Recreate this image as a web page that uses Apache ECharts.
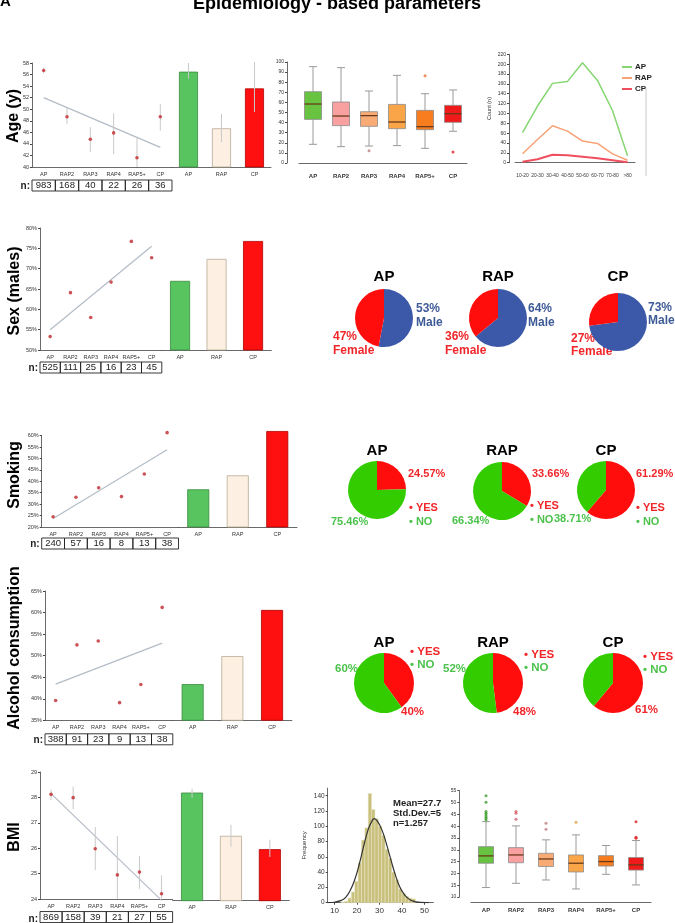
<!DOCTYPE html>
<html><head><meta charset="utf-8">
<script src="https://cdn.jsdelivr.net/npm/echarts@6/dist/echarts.min.js"></script>
<style>html,body{margin:0;padding:0;background:#fff}#c{width:675px;height:923px}</style>
</head><body><div id="c"></div>
<script>
var FONT = '"Liberation Sans", Arial, sans-serif';
var scatCats = ['AP','RAP2','RAP3','RAP4','RAP5+','CP'];
var barCats = ['AP','RAP','CP'];
var boxCats = ['AP','RAP2','RAP3','RAP4','RAP5+','CP'];

// ---- Age ----
var ageMean = [56.7, 48.7, 44.8, 45.9, 41.6, 48.7];
var ageErrLo = [56.2, 47.4, 42.6, 42.2, 40.0, 46.3];
var ageErrHi = [57.2, 50.4, 46.9, 49.3, 45.0, 50.9];
var ageTrend = [52.0, 43.4];
var ageN = [983, 168, 40, 22, 26, 36];
var ageBar = [56.5, 46.7, 53.6];
var ageBarLo = [55.3, 44.3, 49.5];
var ageBarHi = [58.0, 49.2, 58.2];
var ageBox = [
  [18.5, 43.2, 58.4, 70.6, 95.4],
  [16.2, 37.0, 46.5, 60.4, 94.4],
  [16.8, 36.3, 46.9, 50.8, 71.3],
  [17.2, 34.0, 40.6, 58.0, 86.8],
  [14.5, 33.0, 36.0, 52.1, 68.6],
  [31.4, 40.3, 48.8, 57.1, 72.3]
];
var ageOut = [[2, 12.2], [4, 86.5], [5, 10.9]];
var ageGroups = ['10-20','20-30','30-40','40-50','50-60','60-70','70-80','>80'];
var countAP = [61, 115, 161, 165, 203, 167, 106, 14];
var countRAP = [18, 47, 75, 64, 44, 39, 18, 5];
var countCP = [2, 7, 16, 15, 12, 9, 5, 1];

// ---- Sex ----
var sexMean = [53.3, 64.1, 58.0, 66.7, 76.7, 72.7];
var sexTrend = [55.0, 75.5];
var sexN = [525, 111, 25, 16, 23, 45];
var sexBar = [67.0, 72.4, 76.8];
var sexMale = [53, 64, 73];
var sexFemale = [47, 36, 27];

// ---- Smoking ----
var smokeMean = [24.5, 33.0, 37.2, 33.3, 43.2, 61.3];
var smokeTrend = [23.7, 53.8];
var smokeN = [240, 57, 16, 8, 13, 38];
var smokeBar = [36.5, 42.6, 62.0];
var smokeYes = [24.57, 33.66, 61.29];
var smokeNo = [75.46, 66.34, 38.71];

// ---- Alcohol ----
var alcMean = [39.6, 52.5, 53.4, 39.1, 43.3, 61.2];
var alcTrend = [43.4, 52.9];
var alcN = [388, 91, 23, 9, 13, 38];
var alcBar = [43.4, 49.9, 60.6];
var alcYes = [40, 48, 61];
var alcNo = [60, 52, 39];

// ---- BMI ----
var bmiMean = [28.12, 27.99, 25.98, 24.95, 25.06, 24.21];
var bmiErrLo = [27.9, 27.53, 25.14, 24.0, 24.4, 24.03];
var bmiErrHi = [28.3, 28.43, 26.83, 26.48, 25.7, 24.93];
var bmiTrend = [28.15, 23.95];
var bmiN = [869, 158, 39, 21, 27, 55];
var bmiBar = [28.2, 26.52, 26.0];
var bmiBarLo = [28.0, 26.1, 25.7];
var bmiBarHi = [28.35, 26.95, 26.37];
var bmiBox = [
  [14.0, 24.3, 27.4, 31.3, 41.9],
  [15.8, 24.5, 27.8, 30.9, 40.1],
  [17.2, 22.9, 26.1, 28.5, 34.2],
  [13.4, 20.6, 24.3, 27.8, 36.3],
  [19.6, 23.1, 25.0, 27.5, 31.8],
  [15.1, 21.4, 23.6, 26.7, 33.9]
];
var bmiOut = [[0,52.9],[0,50.1],[0,46.2],[0,45.5],[0,44.7],[0,44.0],[0,43.3],[0,42.6],
  [1,46.2],[1,45.5],[1,42.9],[2,41.2],[2,38.7],[3,41.6],[5,41.9],[5,35.3],[5,34.9]];
var histBinWidth = 1.5;
var histLeft = [13, 14.5, 16, 17.5, 19, 20.5, 22, 23.5, 25, 26.5, 28, 29.5, 31, 32.5, 34, 35.5, 37, 38.5, 40, 41.5, 43, 44.5, 49];
var histFreq = [1, 2, 6, 14, 28, 52, 82, 98, 143, 122, 110, 100, 88, 70, 58, 40, 30, 18, 12, 8, 6, 5, 1];
var normX = [7, 10, 13, 15, 17, 19, 21, 23, 25, 26.5, 27.7, 29, 31, 33, 35, 37, 39, 41, 43, 45, 48, 52];
var normY = [0, 0.6, 3, 7, 16, 30, 50, 74, 96, 106, 110, 107, 96, 78, 57, 37, 21, 11, 5, 2, 0.5, 0];
var histCount = 'n=1.257', histMean = 'Mean=27.7', histSd = 'Std.Dev.=5';

// ================= build =================
var barColors = ['#57c45f', '#fdf0e2', '#ff1010'];
var barBorders = ['#3b8c3f', '#b8a996', '#b00000'];
var boxColors = ['#68c340', '#f9a0a0', '#f9ab76', '#f9a548', '#f77d1f', '#f01a1a'];
var outColors = ['#3e9e2e', '#d2606a', '#c08080', '#e0a040', '#e87030', '#e02020'];
var grids = [], xAxes = [], yAxes = [], series = [], graphics = [];
var AX = {lineStyle: {color: '#444', width: 0.8}};
function lbl(extra) { return Object.assign({fontSize: 5.5, color: '#333', fontFamily: FONT, interval: 0}, extra || {}); }
function addGrid(g) { grids.push(g); return grids.length - 1; }

function errSeries(xi, yi, lo, hi) {
  return {type: 'custom', xAxisIndex: xi, yAxisIndex: yi, silent: true, z: 5,
    data: lo.map(function (l, i) { return [i, l, hi[i]]; }), encode: {x: 0, y: [1, 2]},
    renderItem: function (p, api) {
      var a = api.coord([api.value(0), api.value(1)]), b = api.coord([api.value(0), api.value(2)]);
      return {type: 'line', shape: {x1: a[0], y1: a[1], x2: b[0], y2: b[1]}, style: {stroke: '#c9c9c9', lineWidth: 1}};
    }};
}

function txt(x, y, s, color, size, extra) {
  var st = {text: s, x: 0, y: 0, fill: color, font: 'bold ' + size + 'px ' + FONT, align: 'left', verticalAlign: 'middle'};
  if (extra) Object.assign(st, extra);
  return {type: 'text', x: x, y: y, silent: true, style: st};
}

function panel(c) {
  var gi = addGrid({left: c.left, top: c.top, width: c.catW * 6, height: c.height});
  var xi = xAxes.length;
  xAxes.push({type: 'category', gridIndex: gi, data: scatCats, position: 'bottom', axisLine: AX,
    axisTick: {length: 2, lineStyle: {color: '#444'}}, axisLabel: lbl({margin: 4})});
  xAxes.push({type: 'category', gridIndex: gi, data: c.n.map(String), position: 'bottom',
    axisLine: {show: false}, axisTick: {show: false},
    axisLabel: {interval: 0, margin: c.tableGap, fontSize: 9.5, color: '#222', fontFamily: FONT,
      width: c.catW, height: 11, lineHeight: 11, borderColor: '#222', borderWidth: 0.9, align: 'center'}});
  var yi = yAxes.length;
  yAxes.push({type: 'value', gridIndex: gi, min: c.yMin, max: c.yMax, interval: c.yInt,
    splitLine: {show: false}, axisLine: {show: true, lineStyle: AX.lineStyle}, axisTick: {show: true, length: 2},
    axisLabel: lbl({margin: 3, formatter: c.fmt})});
  series.push({type: 'line', xAxisIndex: xi, yAxisIndex: yi, data: [[0, c.trend[0]], [5, c.trend[1]]],
    symbol: 'none', lineStyle: {color: '#b3bcc6', width: 1.2}, clip: false, silent: true, z: 2});
  if (c.errLo) series.push(errSeries(xi, yi, c.errLo, c.errHi));
  series.push({type: 'scatter', xAxisIndex: xi, yAxisIndex: yi, data: c.vals, symbolSize: 3.6,
    itemStyle: {color: '#c0282d'}, clip: false, z: 6, silent: true});
  // bars
  var pxPer = c.height / (c.yMax - c.yMin);
  var bMax = c.barMax || c.yMax;
  var bH = (bMax - c.yMin) * pxPer;
  var bgi = addGrid({left: c.left + c.catW * 6, top: c.top + c.height - bH, width: c.barW * 3, height: bH});
  var bxi = xAxes.length;
  xAxes.push({type: 'category', gridIndex: bgi, data: barCats, axisLine: AX,
    axisTick: {length: 2, lineStyle: {color: '#444'}}, axisLabel: lbl({margin: 4})});
  var byi = yAxes.length;
  yAxes.push({type: 'value', gridIndex: bgi, min: c.yMin, max: bMax, show: false, splitLine: {show: false}});
  series.push({type: 'bar', xAxisIndex: bxi, yAxisIndex: byi, barWidth: c.barPx, z: 3, silent: true,
    data: c.bars.map(function (v, i) { return {value: v, itemStyle: {color: barColors[i], borderColor: barBorders[i], borderWidth: 0.8}}; })});
  if (c.barLo) series.push(errSeries(bxi, byi, c.barLo, c.barHi));
  graphics.push(txt(c.left - 2, c.top + c.height + c.tableGap + 6, 'n:', '#222', 10, {align: 'right'}));
}

function boxSeries(xi, yi, data, halfW, capHalf) {
  return {type: 'custom', xAxisIndex: xi, yAxisIndex: yi, silent: true, z: 3,
    data: data.map(function (d, i) { return [i].concat(d); }), encode: {x: 0, y: [1, 2, 3, 4, 5]},
    renderItem: function (p, api) {
      var i = api.value(0);
      function c(k) { return api.coord([i, api.value(k)]); }
      var lo = c(1), q1 = c(2), md = c(3), q3 = c(4), hi = c(5), x = lo[0];
      var ws = {stroke: '#9a9a9a', lineWidth: 1};
      return {type: 'group', children: [
        {type: 'line', shape: {x1: x, y1: lo[1], x2: x, y2: q1[1]}, style: ws},
        {type: 'line', shape: {x1: x, y1: q3[1], x2: x, y2: hi[1]}, style: ws},
        {type: 'line', shape: {x1: x - capHalf, y1: lo[1], x2: x + capHalf, y2: lo[1]}, style: ws},
        {type: 'line', shape: {x1: x - capHalf, y1: hi[1], x2: x + capHalf, y2: hi[1]}, style: ws},
        {type: 'rect', shape: {x: x - halfW, y: q3[1], width: 2 * halfW, height: q1[1] - q3[1]},
          style: {fill: boxColors[p.dataIndex], stroke: '#8a8a8a', lineWidth: 0.8}},
        {type: 'line', shape: {x1: x - halfW, y1: md[1], x2: x + halfW, y2: md[1]}, style: {stroke: '#6a3a1a', lineWidth: 1.3}}
      ]};
    }};
}

function outSeries(xi, yi, pts) {
  return {type: 'scatter', xAxisIndex: xi, yAxisIndex: yi, symbolSize: 3, silent: true, z: 4,
    data: pts.map(function (p) { return {value: p, itemStyle: {color: outColors[p[0]]}}; })};
}

function boxPanel(g, yMin, yMax, yInt, data, outs, halfW, capHalf, yOff, xOff) {
  var gi = addGrid(g);
  var xi = xAxes.length;
  xAxes.push({type: 'category', gridIndex: gi, data: boxCats, offset: xOff, axisLine: AX,
    axisTick: {length: 2, lineStyle: {color: '#444'}}, axisLabel: lbl({margin: 5, fontSize: 6, fontWeight: 'bold'})});
  var yi = yAxes.length;
  yAxes.push({type: 'value', gridIndex: gi, min: yMin, max: yMax, interval: yInt, offset: yOff,
    splitLine: {show: false}, axisLine: {show: true, lineStyle: AX.lineStyle}, axisTick: {show: true, length: 2},
    axisLabel: lbl({margin: 3, fontSize: 5})});
  series.push(boxSeries(xi, yi, data, halfW, capHalf));
  series.push(outSeries(xi, yi, outs));
}

// Row 1
panel({left: 32, top: 63, height: 104, catW: 23.33, barW: 33, barPx: 19, yMin: 40, yMax: 58, yInt: 2,
  fmt: '{value}', vals: ageMean, errLo: ageErrLo, errHi: ageErrHi, trend: ageTrend, n: ageN, tableGap: 13,
  bars: ageBar, barLo: ageBarLo, barHi: ageBarHi});
boxPanel({left: 299, top: 62, width: 168, height: 101}, 0, 100, 10, ageBox, ageOut, 8.5, 4, 12, 5);
(function () {
  var gi = addGrid({left: 515, top: 54.3, width: 120, height: 108.4});
  var xi = xAxes.length;
  xAxes.push({type: 'category', gridIndex: gi, data: ageGroups, offset: 5, axisLine: AX,
    axisTick: {length: 2, lineStyle: {color: '#444'}}, axisLabel: lbl({margin: 5, fontSize: 4.8})});
  var yi = yAxes.length;
  yAxes.push({type: 'value', gridIndex: gi, min: 0, max: 220, interval: 20, offset: 6, splitLine: {show: false},
    axisLine: {show: true, lineStyle: AX.lineStyle}, axisTick: {show: true, length: 2},
    axisLabel: lbl({margin: 3, fontSize: 5}), name: 'Count (n)', nameLocation: 'middle', nameGap: 17,
    nameTextStyle: {fontSize: 5.5, color: '#333', fontFamily: FONT}});
  [['AP', countAP, '#86d672'], ['RAP', countRAP, '#f7a277'], ['CP', countCP, '#ef4f5f']].forEach(function (s) {
    series.push({type: 'line', name: s[0], xAxisIndex: xi, yAxisIndex: yi, data: s[1], symbol: 'none',
      lineStyle: {color: s[2], width: s[0] === 'CP' ? 2 : 1.5}, itemStyle: {color: s[2]}, silent: true});
  });
})();

// Row 2
panel({left: 40, top: 228, height: 122, catW: 20.3, barW: 36.5, barPx: 20, yMin: 50, yMax: 80, yInt: 5,
  fmt: '{value}%', vals: sexMean, trend: sexTrend, n: sexN, tableGap: 12, bars: sexBar});
// Row 3
panel({left: 41.7, top: 435.6, height: 91.4, catW: 22.8, barW: 39.5, barPx: 22, yMin: 20, yMax: 60, yInt: 5,
  barMax: 65, fmt: '{value}%', vals: smokeMean, trend: smokeTrend, n: smokeN, tableGap: 11, bars: smokeBar});
// Row 4
panel({left: 45, top: 591, height: 129.3, catW: 21.3, barW: 39.7, barPx: 22, yMin: 35, yMax: 65, yInt: 5,
  fmt: '{value}%', vals: alcMean, trend: alcTrend, n: alcN, tableGap: 13.5, bars: alcBar});
// Row 5
panel({left: 40, top: 772, height: 128.7, catW: 22.1, barW: 38.9, barPx: 22, yMin: 24, yMax: 29, yInt: 1,
  fmt: '{value}', vals: bmiMean, errLo: bmiErrLo, errHi: bmiErrHi, trend: bmiTrend, n: bmiN, tableGap: 12.5,
  bars: bmiBar, barLo: bmiBarLo, barHi: bmiBarHi});
// Histogram
(function () {
  var gi = addGrid({left: 327.7, top: 788.1, width: 105.75, height: 114.6});
  var xi = xAxes.length;
  xAxes.push({type: 'value', gridIndex: gi, min: 7, max: 54, splitLine: {show: false}, axisLine: AX,
    axisTick: {show: true, length: 2, customValues: [10, 20, 30, 40, 50]},
    axisLabel: {customValues: [10, 20, 30, 40, 50], fontSize: 8, color: '#333', fontFamily: FONT, margin: 4}});
  var yi = yAxes.length;
  var yv = [0, 20, 40, 60, 80, 100, 120, 140];
  yAxes.push({type: 'value', gridIndex: gi, min: 0, max: 150, splitLine: {show: false},
    axisLine: {show: true, lineStyle: AX.lineStyle}, axisTick: {show: true, length: 2, customValues: yv},
    axisLabel: {customValues: yv, fontSize: 6.5, color: '#333', fontFamily: FONT, margin: 3},
    name: 'Frequency', nameLocation: 'middle', nameGap: 20, nameTextStyle: {fontSize: 6, color: '#333', fontFamily: FONT}});
  series.push({type: 'custom', xAxisIndex: xi, yAxisIndex: yi, silent: true, z: 2,
    data: histLeft.map(function (x, i) { return [x, x + histBinWidth, histFreq[i]]; }), encode: {x: [0, 1], y: 2},
    renderItem: function (p, api) {
      var a = api.coord([api.value(0), api.value(2)]), b = api.coord([api.value(1), 0]);
      return {type: 'rect', shape: {x: a[0], y: a[1], width: b[0] - a[0], height: b[1] - a[1]},
        style: {fill: '#c8c07c', stroke: '#ebe7c6', lineWidth: 0.5}};
    }});
  series.push({type: 'line', xAxisIndex: xi, yAxisIndex: yi, data: normX.map(function (x, i) { return [x, normY[i]]; }),
    smooth: true, symbol: 'none', lineStyle: {color: '#333', width: 1.2}, silent: true, z: 4});
})();
boxPanel({left: 471, top: 790.7, width: 180, height: 106.3}, 10, 55, 5, bmiBox, bmiOut, 7.5, 4, 11.7, 5.7);

// Pies
var RED = '#ff0d0d', GREEN = '#33cc00', BLUE = '#3c58a8';
function pie(center, r, vals, names, colors) {
  return {type: 'pie', center: center, radius: r, startAngle: 90, clockwise: true, silent: true,
    label: {show: false}, labelLine: {show: false}, emphasis: {disabled: true}, itemStyle: {borderWidth: 0},
    data: vals.map(function (v, i) { return {value: v, name: names[i], itemStyle: {color: colors[i]}}; })};
}
var sexCenters = [[384, 318], [498, 318], [618, 322]];
var smokeCenters = [[377, 490], [502, 491], [606, 490]];
var alcCenters = [[384, 683], [493, 683], [613, 683]];
for (var i = 0; i < 3; i++) {
  series.push(pie(sexCenters[i], 29, [sexMale[i], sexFemale[i]], ['Male', 'Female'], [BLUE, RED]));
  series.push(pie(smokeCenters[i], 29, [smokeYes[i], smokeNo[i]], ['YES', 'NO'], [RED, GREEN]));
  series.push(pie(alcCenters[i], 30, [alcYes[i], alcNo[i]], ['YES', 'NO'], [RED, GREEN]));
}

// Text labels
var LBLUE = '#3e5b96', LRED = '#f0262a', LGREEN = '#4cc24c';
graphics.push(txt(0, 2, 'A', '#000', 15));
graphics.push(txt(337, 4, 'Epidemiology - based parameters', '#000', 18, {align: 'center'}));
[['Age (y)', 14, 116], ['Sex (males)', 15, 291], ['Smoking', 15, 475], ['Alcohol consumption', 15, 648], ['BMI', 15, 837]].forEach(function (r) {
  var t = txt(r[1], r[2], r[0], '#000', 16, {align: 'center'});
  t.rotation = Math.PI / 2;
  graphics.push(t);
});
var titles = [[sexCenters, 277], [smokeCenters, 451], [alcCenters, 643]];
titles.forEach(function (t) {
  barCats.forEach(function (name, i) { graphics.push(txt(t[0][i][0], t[1], name, '#000', 15, {align: 'center'})); });
});
// sex labels
var maleXY = [[416, 302], [528, 302], [648, 300.5]];
var femXY = [[333, 330], [445, 330], [571, 331.5]];
for (i = 0; i < 3; i++) {
  graphics.push(txt(maleXY[i][0], maleXY[i][1], sexMale[i] + '%\nMale', LBLUE, 12, {verticalAlign: 'top', lineHeight: 13.5}));
  graphics.push(txt(femXY[i][0], femXY[i][1], sexFemale[i] + '%\nFemale', LRED, 12, {verticalAlign: 'top', lineHeight: 13.5}));
}
// smoking labels
var syXY = [[408, 474], [532, 474], [636, 474]];
var snXY = [[331, 522], [452, 521], [554, 519]];
var slXY = [[409, 508], [530, 506], [636, 508]];
for (i = 0; i < 3; i++) {
  graphics.push(txt(syXY[i][0], syXY[i][1], smokeYes[i].toFixed(2) + '%', LRED, 11));
  graphics.push(txt(snXY[i][0], snXY[i][1], smokeNo[i].toFixed(2) + '%', LGREEN, 11));
  graphics.push(txt(slXY[i][0], slXY[i][1], '\u2022 YES', LRED, 11));
  graphics.push(txt(slXY[i][0], slXY[i][1] + 14, '\u2022 NO', LGREEN, 11));
}
// alcohol labels
var ayXY = [[401, 712], [513, 712], [635, 710]];
var anXY = [[335, 669], [443, 669], null];
var alXY = [[410, 652], [524, 655], [643, 657]];
for (i = 0; i < 3; i++) {
  graphics.push(txt(ayXY[i][0], ayXY[i][1], alcYes[i] + '%', LRED, 11.5));
  if (anXY[i]) graphics.push(txt(anXY[i][0], anXY[i][1], alcNo[i] + '%', LGREEN, 11.5));
  graphics.push(txt(alXY[i][0], alXY[i][1], '\u2022 YES', LRED, 11.5));
  graphics.push(txt(alXY[i][0], alXY[i][1] + 13, '\u2022 NO', LGREEN, 11.5));
}
// histogram stats
graphics.push(txt(393, 803, histMean, '#222', 9.5));
graphics.push(txt(393, 813, histSd, '#222', 9.5));
graphics.push(txt(393, 823, histCount, '#222', 9.5));
// frame line in line chart panel
graphics.push({type: 'line', silent: true, shape: {x1: 646, y1: 88, x2: 646, y2: 176}, style: {stroke: '#bbb', lineWidth: 0.8}});

var chart = echarts.init(document.getElementById('c'), null, {renderer: 'canvas'});
chart.setOption({
  animation: false,
  backgroundColor: '#fff',
  textStyle: {fontFamily: FONT},
  grid: grids, xAxis: xAxes, yAxis: yAxes, series: series,
  legend: {data: ['AP', 'RAP', 'CP'], orient: 'vertical', left: 617, top: 58, itemWidth: 10, itemHeight: 2, itemGap: 3,
    icon: 'rect', selectedMode: false, textStyle: {fontSize: 8, fontWeight: 'bold', color: '#222', padding: [0, 0, 0, -2]}},
  graphic: graphics
});
</script></body></html>
